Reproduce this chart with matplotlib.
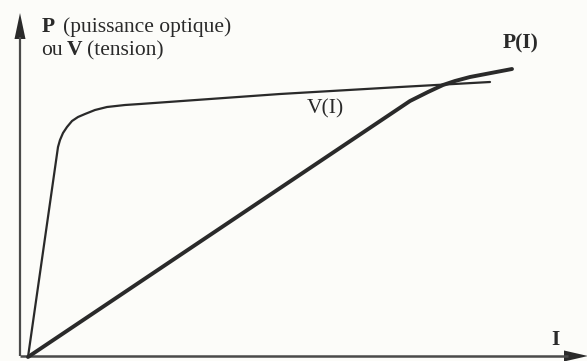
import matplotlib
matplotlib.use("Agg")
import matplotlib.pyplot as plt
from matplotlib.patches import Polygon

W, H = 587, 361

# V(I): steep rise, rounded knee, then a slow linear increase
v_current = [0, 30, 32, 35, 39, 44, 50, 57, 67, 79, 97, 112, 252, 372, 462]
v_voltage = [0, 210, 217, 224, 230, 236, 240, 243, 247, 250, 252, 253, 263, 270, 275]

# P(I): linear optical power, bending over at high current
p_current = [0, 382, 400, 415, 427, 442, 484]
p_power = [0, 256, 265, 272, 276, 280, 288]

fig = plt.figure(figsize=(W / 100, H / 100), dpi=100)
fig.patch.set_facecolor("#fcfcf9")
ax = fig.add_axes([0, 0, 1, 1])
ax.set_facecolor("#fcfcf9")
# origin of the curves sits 28 px from the left and 4 px above the bottom
ax.set_xlim(-28, W - 28)
ax.set_ylim(-4, H - 4)
ax.axis("off")

ink = "#2a2a2a"
axis_ink = "#4a4a4a"

# axes with arrow heads
ax.plot([-8, -8], [1, 320], color=axis_ink, lw=1.6, solid_capstyle="butt")
ax.add_patch(Polygon([[-8, 344], [-13.5, 318], [-2.5, 318]], closed=True,
                     color=ink, lw=0))
ax.plot([-8, 540], [1, 1], color=axis_ink, lw=1.8, solid_capstyle="butt")
ax.add_patch(Polygon([[560, 1], [536, 6.5], [536, -4.5]], closed=True,
                     color=ink, lw=0))

ax.plot(v_current, v_voltage, color=ink, lw=1.6, solid_joinstyle="round",
        solid_capstyle="round")
ax.plot(p_current, p_power, color=ink, lw=2.8, solid_joinstyle="round",
        solid_capstyle="round")

serif = ["Liberation Serif", "DejaVu Serif"]
fs = 15.5


def put(x, y, s, bold=False, ha="left"):
    fig.text(x / W, 1 - y / H, s, fontsize=fs, family=serif,
             fontweight="bold" if bold else "normal", ha=ha, va="baseline",
             color=ink)


put(42, 32, "P", bold=True)
put(63, 32, "(puissance optique)")
put(41, 55, "ou")
put(67, 55, "V", bold=True)
put(87, 55, "(tension)")

put(503, 48, "P(I)", bold=True)
put(307, 113, "V(I)")
put(555, 345, "I", bold=True, ha="center")

fig.savefig("out.png", dpi=100, facecolor=fig.get_facecolor())
